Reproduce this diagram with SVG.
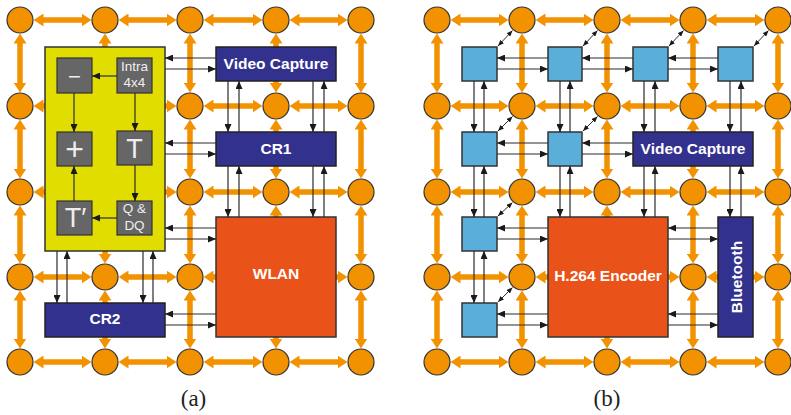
<svg xmlns="http://www.w3.org/2000/svg" width="791" height="415" viewBox="0 0 791 415">
  <defs>
    <marker id="oh" viewBox="0 -6.5 10 13" refX="0.5" refY="0" markerWidth="10" markerHeight="13" markerUnits="userSpaceOnUse" orient="auto-start-reverse">
      <path d="M0,-6.5 L10,0 L0,6.5 z" fill="#F39200"/>
    </marker>
    <marker id="bh" viewBox="0 0 8 7" refX="8" refY="3.5" markerWidth="8" markerHeight="7" markerUnits="userSpaceOnUse" orient="auto">
      <path d="M0,0 L8,3.5 L0,7 z" fill="#1a1a1a"/>
    </marker>
    <marker id="dh" viewBox="0 0 6 5" refX="6" refY="2.5" markerWidth="6" markerHeight="5" markerUnits="userSpaceOnUse" orient="auto-start-reverse">
      <path d="M0,0 L6,2.5 L0,5 z" fill="#1a1a1a"/>
    </marker>
  </defs>
  <style>
    .lk { stroke:#F39200; stroke-width:5.5; fill:none; marker-start:url(#oh); marker-end:url(#oh); }
    .lk1 { stroke:#F39200; stroke-width:5.5; fill:none; marker-end:url(#oh); }
    .rt { fill:#F39200; stroke:#333; stroke-width:1.2; }
    .cn { stroke:#2a2a2a; stroke-width:1.2; fill:none; marker-end:url(#bh); }
    .dg { stroke:#2a2a2a; stroke-width:1; fill:none; marker-start:url(#dh); marker-end:url(#dh); }
    .navy { fill:#33318E; stroke:#222; stroke-width:1.5; }
    .red { fill:#E95219; stroke:#333; stroke-width:1.5; }
    .yel { fill:#E2DD00; stroke:#333; stroke-width:1.5; }
    .gry { fill:#666; stroke:#333; stroke-width:1.2; }
    .blu { fill:#5AAEDA; stroke:#333; stroke-width:1.5; }
    .lbl { font-family:"Liberation Sans", Arial, sans-serif; font-weight:bold; font-size:15.5px; fill:#fff; text-anchor:middle; }
    .sm { font-family:"Liberation Sans", Arial, sans-serif; font-size:13.5px; fill:#eee; text-anchor:middle; }
    .big { font-family:"Liberation Sans", Arial, sans-serif; font-size:27px; fill:#eee; text-anchor:middle; }
    .cap { font-family:"Liberation Serif", "Times New Roman", serif; font-size:23px; fill:#222; text-anchor:middle; }
  </style>

  <!-- mesh links, panel (a); line ends stop one arrowhead short of the router edge -->
  <g id="links-a">
    <line class="lk" x1="43" y1="20" x2="82" y2="20"/>
    <line class="lk" x1="128" y1="20" x2="167" y2="20"/>
    <line class="lk" x1="213" y1="20" x2="253" y2="20"/>
    <line class="lk" x1="299" y1="20" x2="338" y2="20"/>
    <line class="lk" x1="213" y1="106" x2="253" y2="106"/>
    <line class="lk" x1="299" y1="106" x2="338" y2="106"/>
    <line class="lk" x1="213" y1="192" x2="253" y2="192"/>
    <line class="lk" x1="299" y1="192" x2="338" y2="192"/>
    <line class="lk" x1="43" y1="277" x2="82" y2="277"/>
    <line class="lk" x1="128" y1="277" x2="167" y2="277"/>
    <line class="lk" x1="43" y1="362" x2="82" y2="362"/>
    <line class="lk" x1="128" y1="362" x2="167" y2="362"/>
    <line class="lk" x1="213" y1="362" x2="253" y2="362"/>
    <line class="lk" x1="299" y1="362" x2="338" y2="362"/>
    <line class="lk" x1="20" y1="43" x2="20" y2="83"/>
    <line class="lk" x1="20" y1="129" x2="20" y2="169"/>
    <line class="lk" x1="20" y1="215" x2="20" y2="254"/>
    <line class="lk" x1="20" y1="300" x2="20" y2="339"/>
    <line class="lk" x1="190" y1="43" x2="190" y2="83"/>
    <line class="lk" x1="190" y1="129" x2="190" y2="169"/>
    <line class="lk" x1="190" y1="215" x2="190" y2="254"/>
    <line class="lk" x1="190" y1="300" x2="190" y2="339"/>
    <line class="lk" x1="361" y1="43" x2="361" y2="83"/>
    <line class="lk" x1="361" y1="129" x2="361" y2="169"/>
    <line class="lk" x1="361" y1="215" x2="361" y2="254"/>
    <line class="lk" x1="361" y1="300" x2="361" y2="339"/>
    <line class="lk1" x1="105" y1="47" x2="105" y2="43"/>
    <line class="lk1" x1="105" y1="251" x2="105" y2="254"/>
    <line class="lk1" x1="105" y1="303" x2="105" y2="300"/>
    <line class="lk1" x1="105" y1="337" x2="105" y2="339"/>
    <line class="lk1" x1="45" y1="106" x2="43" y2="106"/>
    <line class="lk1" x1="165" y1="106" x2="167" y2="106"/>
    <line class="lk1" x1="45" y1="192" x2="43" y2="192"/>
    <line class="lk1" x1="165" y1="192" x2="167" y2="192"/>
    <line class="lk1" x1="276" y1="47" x2="276" y2="43"/>
    <line class="lk1" x1="276" y1="81" x2="276" y2="83"/>
    <line class="lk1" x1="276" y1="132" x2="276" y2="129"/>
    <line class="lk1" x1="276" y1="166" x2="276" y2="169"/>
    <line class="lk1" x1="276" y1="217" x2="276" y2="215"/>
    <line class="lk1" x1="276" y1="337" x2="276" y2="339"/>
    <line class="lk1" x1="216" y1="277" x2="213" y2="277"/>
    <line class="lk1" x1="336" y1="277" x2="338" y2="277"/>
  </g>

  <!-- mesh links, panel (b) -->
  <g id="links-b">
    <line class="lk" x1="460" y1="20" x2="499" y2="20"/>
    <line class="lk" x1="545" y1="20" x2="584" y2="20"/>
    <line class="lk" x1="630" y1="20" x2="670" y2="20"/>
    <line class="lk" x1="716" y1="20" x2="755" y2="20"/>
    <line class="lk" x1="460" y1="106" x2="499" y2="106"/>
    <line class="lk" x1="545" y1="106" x2="584" y2="106"/>
    <line class="lk" x1="630" y1="106" x2="670" y2="106"/>
    <line class="lk" x1="716" y1="106" x2="755" y2="106"/>
    <line class="lk" x1="460" y1="192" x2="499" y2="192"/>
    <line class="lk" x1="545" y1="192" x2="584" y2="192"/>
    <line class="lk" x1="630" y1="192" x2="670" y2="192"/>
    <line class="lk" x1="716" y1="192" x2="755" y2="192"/>
    <line class="lk" x1="460" y1="277" x2="499" y2="277"/>
    <line class="lk" x1="460" y1="362" x2="499" y2="362"/>
    <line class="lk" x1="545" y1="362" x2="584" y2="362"/>
    <line class="lk" x1="630" y1="362" x2="670" y2="362"/>
    <line class="lk" x1="716" y1="362" x2="755" y2="362"/>
    <line class="lk" x1="437" y1="43" x2="437" y2="83"/>
    <line class="lk" x1="437" y1="129" x2="437" y2="169"/>
    <line class="lk" x1="437" y1="215" x2="437" y2="254"/>
    <line class="lk" x1="437" y1="300" x2="437" y2="339"/>
    <line class="lk" x1="522" y1="43" x2="522" y2="83"/>
    <line class="lk" x1="522" y1="129" x2="522" y2="169"/>
    <line class="lk" x1="522" y1="215" x2="522" y2="254"/>
    <line class="lk" x1="522" y1="300" x2="522" y2="339"/>
    <line class="lk" x1="607" y1="43" x2="607" y2="83"/>
    <line class="lk" x1="607" y1="129" x2="607" y2="169"/>
    <line class="lk" x1="693" y1="43" x2="693" y2="83"/>
    <line class="lk" x1="693" y1="215" x2="693" y2="254"/>
    <line class="lk" x1="693" y1="300" x2="693" y2="339"/>
    <line class="lk" x1="778" y1="43" x2="778" y2="83"/>
    <line class="lk" x1="778" y1="129" x2="778" y2="169"/>
    <line class="lk" x1="778" y1="215" x2="778" y2="254"/>
    <line class="lk" x1="778" y1="300" x2="778" y2="339"/>
    <line class="lk1" x1="693" y1="132" x2="693" y2="129"/>
    <line class="lk1" x1="693" y1="166" x2="693" y2="169"/>
    <line class="lk1" x1="607" y1="217" x2="607" y2="215"/>
    <line class="lk1" x1="607" y1="337" x2="607" y2="339"/>
    <line class="lk1" x1="548" y1="277" x2="545" y2="277"/>
    <line class="lk1" x1="668" y1="277" x2="670" y2="277"/>
    <line class="lk1" x1="718" y1="277" x2="716" y2="277"/>
    <line class="lk1" x1="753" y1="277" x2="755" y2="277"/>
  </g>

  <!-- routers, panel (a) -->
  <g id="a-r00"><circle class="rt" cx="20" cy="20" r="13"/></g>
  <g id="a-r01"><circle class="rt" cx="105" cy="20" r="13"/></g>
  <g id="a-r02"><circle class="rt" cx="190" cy="20" r="13"/></g>
  <g id="a-r03"><circle class="rt" cx="276" cy="20" r="13"/></g>
  <g id="a-r04"><circle class="rt" cx="361" cy="20" r="13"/></g>
  <g id="a-r10"><circle class="rt" cx="20" cy="106" r="13"/></g>
  <g id="a-r12"><circle class="rt" cx="190" cy="106" r="13"/></g>
  <g id="a-r13"><circle class="rt" cx="276" cy="106" r="13"/></g>
  <g id="a-r14"><circle class="rt" cx="361" cy="106" r="13"/></g>
  <g id="a-r20"><circle class="rt" cx="20" cy="192" r="13"/></g>
  <g id="a-r22"><circle class="rt" cx="190" cy="192" r="13"/></g>
  <g id="a-r23"><circle class="rt" cx="276" cy="192" r="13"/></g>
  <g id="a-r24"><circle class="rt" cx="361" cy="192" r="13"/></g>
  <g id="a-r30"><circle class="rt" cx="20" cy="277" r="13"/></g>
  <g id="a-r31"><circle class="rt" cx="105" cy="277" r="13"/></g>
  <g id="a-r32"><circle class="rt" cx="190" cy="277" r="13"/></g>
  <g id="a-r34"><circle class="rt" cx="361" cy="277" r="13"/></g>
  <g id="a-r40"><circle class="rt" cx="20" cy="362" r="13"/></g>
  <g id="a-r41"><circle class="rt" cx="105" cy="362" r="13"/></g>
  <g id="a-r42"><circle class="rt" cx="190" cy="362" r="13"/></g>
  <g id="a-r43"><circle class="rt" cx="276" cy="362" r="13"/></g>
  <g id="a-r44"><circle class="rt" cx="361" cy="362" r="13"/></g>

  <!-- routers, panel (b) -->
  <g id="b-r00"><circle class="rt" cx="437" cy="20" r="13"/></g>
  <g id="b-r01"><circle class="rt" cx="522" cy="20" r="13"/></g>
  <g id="b-r02"><circle class="rt" cx="607" cy="20" r="13"/></g>
  <g id="b-r03"><circle class="rt" cx="693" cy="20" r="13"/></g>
  <g id="b-r04"><circle class="rt" cx="778" cy="20" r="13"/></g>
  <g id="b-r10"><circle class="rt" cx="437" cy="106" r="13"/></g>
  <g id="b-r11"><circle class="rt" cx="522" cy="106" r="13"/></g>
  <g id="b-r12"><circle class="rt" cx="607" cy="106" r="13"/></g>
  <g id="b-r13"><circle class="rt" cx="693" cy="106" r="13"/></g>
  <g id="b-r14"><circle class="rt" cx="778" cy="106" r="13"/></g>
  <g id="b-r20"><circle class="rt" cx="437" cy="192" r="13"/></g>
  <g id="b-r21"><circle class="rt" cx="522" cy="192" r="13"/></g>
  <g id="b-r22"><circle class="rt" cx="607" cy="192" r="13"/></g>
  <g id="b-r23"><circle class="rt" cx="693" cy="192" r="13"/></g>
  <g id="b-r24"><circle class="rt" cx="778" cy="192" r="13"/></g>
  <g id="b-r30"><circle class="rt" cx="437" cy="277" r="13"/></g>
  <g id="b-r31"><circle class="rt" cx="522" cy="277" r="13"/></g>
  <g id="b-r33"><circle class="rt" cx="693" cy="277" r="13"/></g>
  <g id="b-r34"><circle class="rt" cx="778" cy="277" r="13"/></g>
  <g id="b-r40"><circle class="rt" cx="437" cy="362" r="13"/></g>
  <g id="b-r41"><circle class="rt" cx="522" cy="362" r="13"/></g>
  <g id="b-r42"><circle class="rt" cx="607" cy="362" r="13"/></g>
  <g id="b-r43"><circle class="rt" cx="693" cy="362" r="13"/></g>
  <g id="b-r44"><circle class="rt" cx="778" cy="362" r="13"/></g>

  <!-- panel (a) cores -->
  <g id="a-encoder">
    <rect class="yel" x="45" y="47" width="120" height="204"/>
    <g id="a-sub"><rect class="gry" x="57" y="58" width="35" height="35"/><text class="big" x="74.5" y="84" style="font-size:22px">−</text></g>
    <g id="a-intra"><rect class="gry" x="117" y="58" width="35" height="35"/><text class="sm" x="134.5" y="71">Intra</text><text class="sm" x="134.5" y="87">4x4</text></g>
    <g id="a-add"><rect class="gry" x="57" y="132" width="35" height="34"/><text class="big" x="74.5" y="160" style="font-size:32px">+</text></g>
    <g id="a-t"><rect class="gry" x="117" y="131" width="35" height="34"/><text class="big" x="134.5" y="158">T</text></g>
    <g id="a-tinv"><rect class="gry" x="57" y="201" width="35" height="34"/><text class="big" x="75.5" y="227">T′</text></g>
    <g id="a-q"><rect class="gry" x="117" y="201" width="35" height="34"/><text class="sm" x="134.5" y="213">Q &amp;</text><text class="sm" x="134.5" y="230">DQ</text></g>
  </g>
  <g id="a-video"><rect class="navy" x="216" y="47" width="120" height="34"/><text class="lbl" x="276" y="69">Video Capture</text></g>
  <g id="a-cr1"><rect class="navy" x="216" y="132" width="120" height="34"/><text class="lbl" x="276" y="154">CR1</text></g>
  <g id="a-wlan"><rect class="red" x="216" y="217" width="120" height="120"/><text class="lbl" x="276" y="279">WLAN</text></g>
  <g id="a-cr2"><rect class="navy" x="45" y="303" width="120" height="34"/><text class="lbl" x="105" y="324">CR2</text></g>

  <!-- panel (b) cores -->
  <g id="b-p00"><rect class="blu" x="462" y="47" width="35" height="34"/></g>
  <g id="b-p01"><rect class="blu" x="548" y="47" width="34" height="34"/></g>
  <g id="b-p02"><rect class="blu" x="633" y="47" width="35" height="34"/></g>
  <g id="b-p03"><rect class="blu" x="718" y="47" width="35" height="34"/></g>
  <g id="b-p10"><rect class="blu" x="462" y="132" width="35" height="34"/></g>
  <g id="b-p11"><rect class="blu" x="548" y="132" width="34" height="34"/></g>
  <g id="b-p20"><rect class="blu" x="462" y="217" width="35" height="34"/></g>
  <g id="b-p30"><rect class="blu" x="462" y="303" width="35" height="34"/></g>
  <g id="b-video"><rect class="navy" x="633" y="132" width="120" height="34"/><text class="lbl" x="693" y="154">Video Capture</text></g>
  <g id="b-h264"><rect class="red" x="548" y="217" width="120" height="120"/><text class="lbl" x="608" y="281">H.264 Encoder</text></g>
  <g id="b-bt"><rect class="navy" x="718" y="217" width="35" height="120"/><text class="lbl" transform="translate(741.5,277) rotate(-90)" x="0" y="0">Bluetooth</text></g>

  <!-- connectors -->
  <g id="connectors">
    <!-- panel (a): encoder internals -->
    <line class="cn" x1="117" y1="76" x2="92" y2="76"/>
    <line class="cn" x1="74" y1="93" x2="74" y2="132"/>
    <line class="cn" x1="74" y1="201" x2="74" y2="166"/>
    <line class="cn" x1="135" y1="93" x2="135" y2="131"/>
    <line class="cn" x1="135" y1="165" x2="135" y2="201"/>
    <line class="cn" x1="117" y1="218" x2="92" y2="218"/>
    <!-- panel (a): core-to-core -->
    <line class="cn" x1="216" y1="58" x2="165" y2="58"/>
    <line class="cn" x1="165" y1="69" x2="216" y2="69"/>
    <line class="cn" x1="216" y1="143" x2="165" y2="143"/>
    <line class="cn" x1="165" y1="154" x2="216" y2="154"/>
    <line class="cn" x1="216" y1="228" x2="165" y2="228"/>
    <line class="cn" x1="165" y1="239" x2="216" y2="239"/>
    <line class="cn" x1="216" y1="314" x2="165" y2="314"/>
    <line class="cn" x1="165" y1="325" x2="216" y2="325"/>
    <line class="cn" x1="57" y1="251" x2="57" y2="303"/>
    <line class="cn" x1="67" y1="303" x2="67" y2="251"/>
    <line class="cn" x1="143" y1="251" x2="143" y2="303"/>
    <line class="cn" x1="153" y1="303" x2="153" y2="251"/>
    <line class="cn" x1="228" y1="81" x2="228" y2="132"/>
    <line class="cn" x1="239" y1="132" x2="239" y2="81"/>
    <line class="cn" x1="313" y1="81" x2="313" y2="132"/>
    <line class="cn" x1="324" y1="132" x2="324" y2="81"/>
    <line class="cn" x1="228" y1="166" x2="228" y2="217"/>
    <line class="cn" x1="239" y1="217" x2="239" y2="166"/>
    <line class="cn" x1="313" y1="166" x2="313" y2="217"/>
    <line class="cn" x1="324" y1="217" x2="324" y2="166"/>
    <!-- panel (b): horizontal -->
    <line class="cn" x1="548" y1="58" x2="497" y2="58"/>
    <line class="cn" x1="497" y1="69" x2="548" y2="69"/>
    <line class="cn" x1="633" y1="58" x2="582" y2="58"/>
    <line class="cn" x1="582" y1="69" x2="633" y2="69"/>
    <line class="cn" x1="718" y1="58" x2="668" y2="58"/>
    <line class="cn" x1="668" y1="69" x2="718" y2="69"/>
    <line class="cn" x1="548" y1="143" x2="497" y2="143"/>
    <line class="cn" x1="497" y1="154" x2="548" y2="154"/>
    <line class="cn" x1="633" y1="143" x2="582" y2="143"/>
    <line class="cn" x1="582" y1="154" x2="633" y2="154"/>
    <line class="cn" x1="548" y1="228" x2="497" y2="228"/>
    <line class="cn" x1="497" y1="239" x2="548" y2="239"/>
    <line class="cn" x1="718" y1="228" x2="668" y2="228"/>
    <line class="cn" x1="668" y1="239" x2="718" y2="239"/>
    <line class="cn" x1="548" y1="314" x2="497" y2="314"/>
    <line class="cn" x1="497" y1="325" x2="548" y2="325"/>
    <line class="cn" x1="718" y1="314" x2="668" y2="314"/>
    <line class="cn" x1="668" y1="325" x2="718" y2="325"/>
    <!-- panel (b): vertical -->
    <line class="cn" x1="474" y1="81" x2="474" y2="132"/>
    <line class="cn" x1="484" y1="132" x2="484" y2="81"/>
    <line class="cn" x1="560" y1="81" x2="560" y2="132"/>
    <line class="cn" x1="570" y1="132" x2="570" y2="81"/>
    <line class="cn" x1="644" y1="81" x2="644" y2="132"/>
    <line class="cn" x1="655" y1="132" x2="655" y2="81"/>
    <line class="cn" x1="730" y1="81" x2="730" y2="132"/>
    <line class="cn" x1="741" y1="132" x2="741" y2="81"/>
    <line class="cn" x1="474" y1="166" x2="474" y2="217"/>
    <line class="cn" x1="484" y1="217" x2="484" y2="166"/>
    <line class="cn" x1="560" y1="166" x2="560" y2="217"/>
    <line class="cn" x1="570" y1="217" x2="570" y2="166"/>
    <line class="cn" x1="644" y1="166" x2="644" y2="217"/>
    <line class="cn" x1="655" y1="217" x2="655" y2="166"/>
    <line class="cn" x1="730" y1="166" x2="730" y2="217"/>
    <line class="cn" x1="741" y1="217" x2="741" y2="166"/>
    <line class="cn" x1="474" y1="251" x2="474" y2="303"/>
    <line class="cn" x1="484" y1="303" x2="484" y2="251"/>
    <!-- panel (b): core-to-router -->
    <line class="dg" x1="498" y1="46" x2="512.5" y2="30.5"/>
    <line class="dg" x1="583" y1="46" x2="597.5" y2="30.5"/>
    <line class="dg" x1="669" y1="46" x2="683.5" y2="30.5"/>
    <line class="dg" x1="754" y1="46" x2="768.5" y2="30.5"/>
    <line class="dg" x1="498" y1="131" x2="512.5" y2="116.5"/>
    <line class="dg" x1="583" y1="131" x2="597.5" y2="116.5"/>
    <line class="dg" x1="498" y1="216" x2="512.5" y2="202.5"/>
    <line class="dg" x1="498" y1="302" x2="512.5" y2="287.5"/>
  </g>

  <text class="cap" x="193.5" y="406">(a)</text>
  <text class="cap" x="607" y="406">(b)</text>
</svg>
